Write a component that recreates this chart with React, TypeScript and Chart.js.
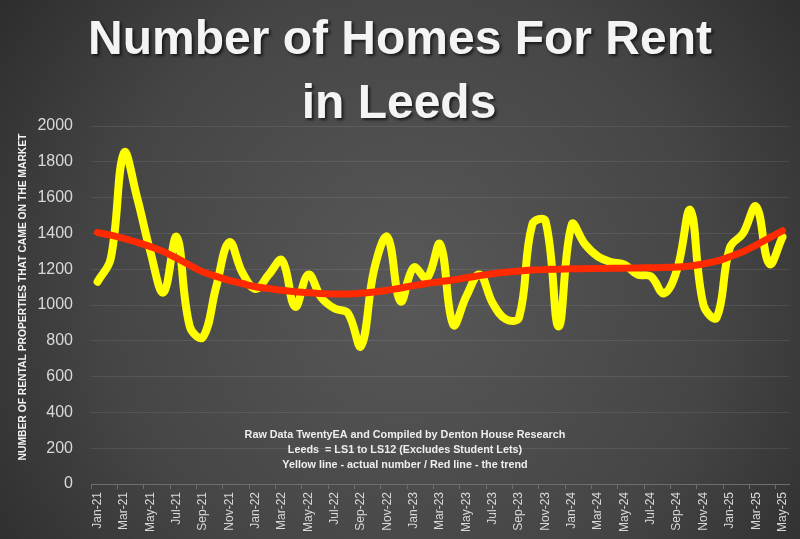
import React, { useEffect, useRef } from "react";
import { Chart, registerables } from "chart.js";

Chart.register(...registerables);

// Month labels, Jan-21 through May-25
const months = [
  "Jan-21", "Feb-21", "Mar-21", "Apr-21", "May-21", "Jun-21", "Jul-21", "Aug-21", "Sep-21", "Oct-21", "Nov-21", "Dec-21",
  "Jan-22", "Feb-22", "Mar-22", "Apr-22", "May-22", "Jun-22", "Jul-22", "Aug-22", "Sep-22", "Oct-22", "Nov-22", "Dec-22",
  "Jan-23", "Feb-23", "Mar-23", "Apr-23", "May-23", "Jun-23", "Jul-23", "Aug-23", "Sep-23", "Oct-23", "Nov-23", "Dec-23",
  "Jan-24", "Feb-24", "Mar-24", "Apr-24", "May-24", "Jun-24", "Jul-24", "Aug-24", "Sep-24", "Oct-24", "Nov-24", "Dec-24",
  "Jan-25", "Feb-25", "Mar-25", "Apr-25", "May-25",
];

// Homes that came on the rental market each month
const actualHomes = [
  1130, 1260, 1850, 1600, 1300, 1070, 1380, 880, 820, 1100, 1350, 1180,
  1090, 1170, 1250, 990, 1170, 1040, 980, 955, 770, 1200, 1380, 1020,
  1210, 1150, 1340, 890, 1050, 1170, 1010, 920, 930, 1450, 1470, 880,
  1450, 1340, 1270, 1240, 1225, 1170, 1160, 1065, 1200, 1530, 1000, 930,
  1320, 1400, 1550, 1230, 1380,
];

// Trend line values
const trendHomes = [
  1405, 1390, 1372, 1350, 1326, 1298, 1262, 1222, 1185, 1160, 1138, 1120,
  1102, 1092, 1082, 1074, 1068, 1064, 1061, 1062, 1066, 1073, 1082, 1095,
  1108, 1120, 1130, 1140, 1152, 1164, 1175, 1183, 1190, 1195, 1198, 1200,
  1202, 1203, 1204, 1205, 1206, 1207, 1208, 1209, 1212, 1218, 1230, 1245,
  1270, 1298, 1335, 1375, 1415,
];

const yTicks = { min: 0, max: 2000, step: 200 };

const titleLines = ["Number of Homes For Rent", "in Leeds"];
const yAxisTitle = "NUMBER OF RENTAL PROPERTIES THAT CAME ON THE MARKET";
const noteLines = [
  "Raw Data TwentyEA and Compiled by Denton House Research",
  "Leeds  = LS1 to LS12 (Excludes Student Lets)",
  "Yellow line - actual number / Red line - the trend",
];

const decorPlugin = {
  id: "decor",
  beforeDraw(chart: any) {
    const { ctx, width, height } = chart;
    ctx.save();
    const g = ctx.createRadialGradient(410, 290, 0, 410, 290, 560);
    g.addColorStop(0, "#585858");
    g.addColorStop(0.55, "#454545");
    g.addColorStop(1, "#262626");
    ctx.fillStyle = g;
    ctx.fillRect(0, 0, width, height);
    ctx.restore();
  },
  afterDraw(chart: any) {
    const { ctx } = chart;
    ctx.save();
    // main heading
    ctx.font = "bold 48px 'Liberation Sans', Arial, sans-serif";
    ctx.textAlign = "center";
    ctx.textBaseline = "alphabetic";
    ctx.shadowColor = "rgba(0,0,0,0.65)";
    ctx.shadowOffsetX = 2;
    ctx.shadowOffsetY = 2;
    ctx.shadowBlur = 3;
    ctx.fillStyle = "#f4f4f4";
    ctx.fillText(titleLines[0], 400, 54);
    ctx.fillText(titleLines[1], 399, 118);

    // vertical axis title
    ctx.shadowColor = "transparent";
    ctx.font = "bold 10.3px 'Liberation Sans', Arial, sans-serif";
    ctx.fillStyle = "#f2f2f2";
    ctx.translate(23, 297);
    ctx.rotate(-Math.PI / 2);
    ctx.textBaseline = "middle";
    ctx.fillText(yAxisTitle, 0, 0);
    ctx.restore();

    // source notes
    ctx.save();
    ctx.font = "bold 10.8px 'Liberation Sans', Arial, sans-serif";
    ctx.textAlign = "center";
    ctx.textBaseline = "middle";
    ctx.fillStyle = "#eeeeee";
    noteLines.forEach((t, i) => ctx.fillText(t, 405, 435 + i * 15.2));
    ctx.restore();
  },
};

export default function App() {
  const canvasRef = useRef<HTMLCanvasElement>(null);

  useEffect(() => {
    if (!canvasRef.current) return;
    const chart = new Chart(canvasRef.current, {
      type: "line",
      data: {
        labels: months,
        datasets: [
          {
            label: "Trend",
            data: trendHomes,
            borderColor: "#ff2a00",
            borderWidth: 7,
            pointRadius: 0,
            tension: 0.4,
            borderCapStyle: "round",
            borderJoinStyle: "round",
            fill: false,
            order: 0,
          },
          {
            label: "Actual",
            data: actualHomes,
            borderColor: "#ffff00",
            borderWidth: 8,
            pointRadius: 0,
            tension: 0.4,
            borderCapStyle: "round",
            borderJoinStyle: "round",
            fill: false,
            order: 1,
          },
        ],
      },
      options: {
        animation: false,
        responsive: false,
        maintainAspectRatio: false,
        layout: { padding: { top: 126, right: 7, left: 0, bottom: 0 } },
        plugins: {
          legend: { display: false },
          title: { display: false },
          tooltip: { enabled: false },
        },
        scales: {
          x: {
            type: "category",
            offset: true,
            grid: {
              display: true,
              offset: true,
              drawOnChartArea: false,
              drawTicks: true,
              tickLength: 5,
              color: (c: any) => (c.index % 2 === 0 ? "#6e6e6e" : "transparent"),
            },
            border: { display: true, color: "#6e6e6e", width: 1 },
            ticks: {
              autoSkip: false,
              minRotation: 90,
              maxRotation: 90,
              padding: 3,
              color: "#d9d9d9",
              font: { family: "'Liberation Sans', Arial, sans-serif", size: 12 },
              callback: (_v: any, i: number) => (i % 2 === 0 ? months[i] : ""),
            },
            afterFit: (s: any) => {
              s.height = 55;
            },
          },
          y: {
            min: yTicks.min,
            max: yTicks.max,
            grid: {
              display: true,
              drawTicks: false,
              color: "rgba(255,255,255,0.09)",
              lineWidth: 1,
            },
            border: { display: false },
            ticks: {
              stepSize: yTicks.step,
              padding: 18,
              color: "#d9d9d9",
              font: { family: "'Liberation Sans', Arial, sans-serif", size: 16 },
              callback: (v: any) => String(v),
            },
            afterFit: (s: any) => {
              s.width = 91;
            },
          },
        },
      },
      plugins: [decorPlugin],
    });
    return () => chart.destroy();
  }, []);

  return (
    <div style={{ position: "fixed", left: 0, top: 0, width: 800, height: 539 }}>
      <canvas ref={canvasRef} width={800} height={539} style={{ display: "block", width: 800, height: 539 }} />
    </div>
  );
}
